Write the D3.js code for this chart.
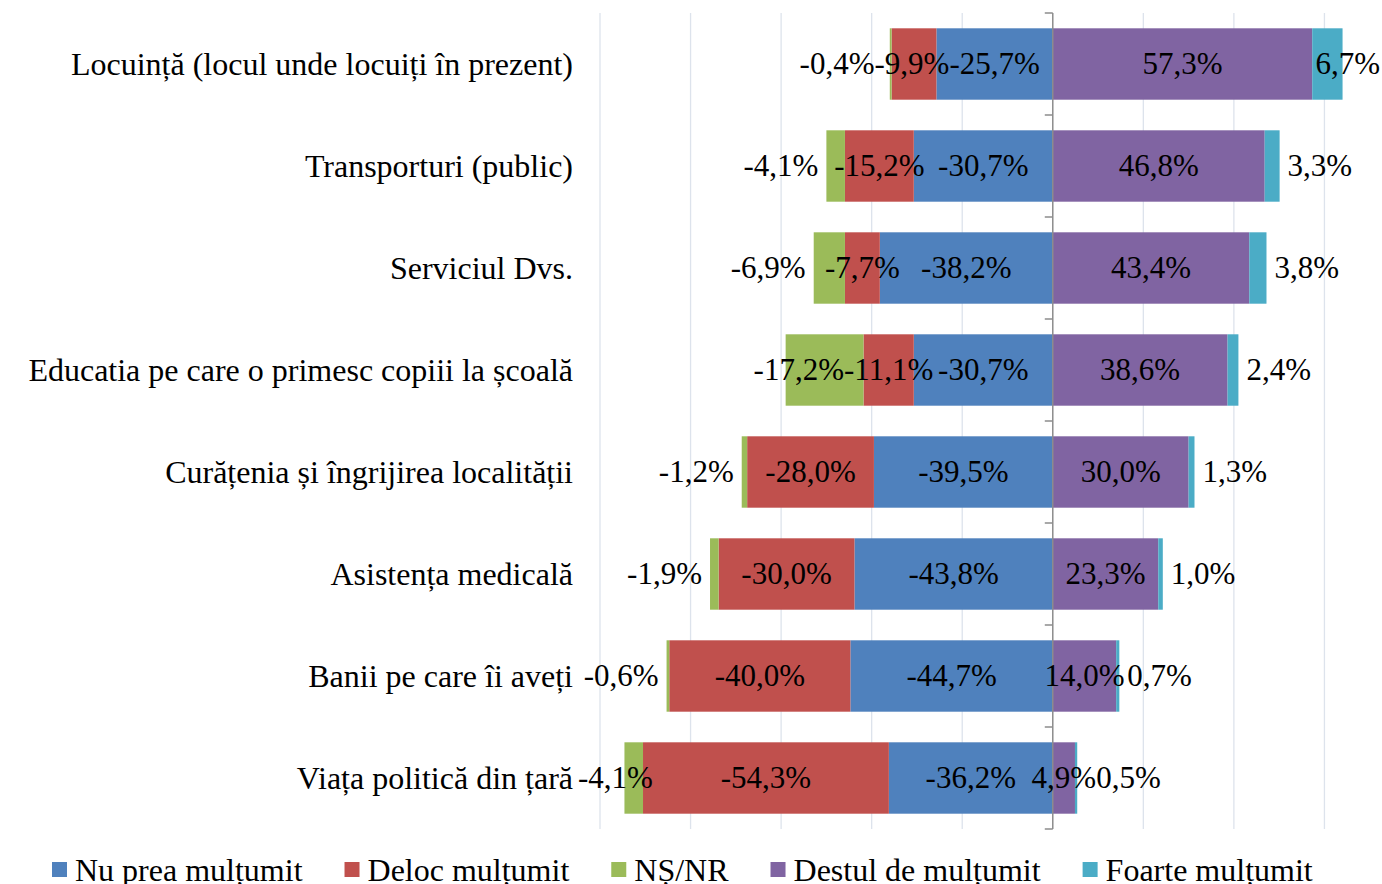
<!DOCTYPE html>
<html>
<head>
<meta charset="utf-8">
<script src="https://cdn.jsdelivr.net/npm/d3@7"></script>
<style>
body { margin: 0; background: #fff; }
text { font-family: "Liberation Serif", "Times New Roman", serif; fill: #000; }
</style>
</head>
<body>
<script>
let width = 1382, height = 884

let categories = [
    "Locuință (locul unde locuiți în prezent)",
    "Transporturi (public)",
    "Serviciul Dvs.",
    "Educatia pe care o primesc copiii la școală",
    "Curățenia și îngrijirea localității",
    "Asistența medicală",
    "Banii pe care îi aveți",
    "Viața politică din țară"
]
let seriesNames = ["Nu prea mulțumit", "Deloc mulțumit", "NȘ/NR", "Destul de mulțumit", "Foarte mulțumit"]
let nuPrea  = [-25.7, -30.7, -38.2, -30.7, -39.5, -43.8, -44.7, -36.2]
let deloc   = [-9.9, -15.2, -7.7, -11.1, -28.0, -30.0, -40.0, -54.3]
let nsnr    = [-0.4, -4.1, -6.9, -17.2, -1.2, -1.9, -0.6, -4.1]
let destul  = [57.3, 46.8, 43.4, 38.6, 30.0, 23.3, 14.0, 4.9]
let foarte  = [6.7, 3.3, 3.8, 2.4, 1.3, 1.0, 0.7, 0.5]
let gridTicks = [-100, -80, -60, -40, -20, 20, 40, 60, 80]

let colors = ["#4F81BD", "#C0504D", "#9BBB59", "#8064A2", "#4BACC6"]
let values = [nuPrea, deloc, nsnr, destul, foarte]

let locale = d3.formatLocale({decimal: ",", thousands: ".", grouping: [3], currency: ["", ""], minus: "-"})
let fmt = v => locale.format(".1f")(v) + "%"

let svg = d3.select("body").append("svg")
    .attr("width", width)
    .attr("height", height)

let x = d3.scaleLinear().domain([-100, 80]).range([600, 1415])
let y = d3.scaleBand().domain(categories).range([13, 829]).paddingInner(0.3).paddingOuter(0.15)

// gridlines
svg.append("g").selectAll("line")
    .data(gridTicks)
    .enter().append("line")
    .attr("x1", d => x(d)).attr("x2", d => x(d))
    .attr("y1", 13).attr("y2", 829)
    .attr("stroke", "#dde3ec")
    .attr("stroke-width", 1.3)

// build stacked segments: negatives grow leftward from 0, positives rightward
let segs = []
categories.forEach((c, i) => {
    let neg = 0, pos = 0
    values.forEach((arr, s) => {
        let v = arr[i], x0, x1
        if (v < 0) { x1 = neg; x0 = neg + v; neg = x0 }
        else { x0 = pos; x1 = pos + v; pos = x1 }
        segs.push({cat: c, series: s, value: v, x0: x0, x1: x1})
    })
})

svg.append("g").selectAll("rect")
    .data(segs)
    .enter().append("rect")
    .attr("x", d => x(d.x0))
    .attr("width", d => x(d.x1) - x(d.x0))
    .attr("y", d => y(d.cat))
    .attr("height", y.bandwidth())
    .attr("fill", d => colors[d.series])

// centre axis with small ticks at the category boundaries
let axisG = svg.append("g")
axisG.append("line")
    .attr("x1", x(0)).attr("x2", x(0))
    .attr("y1", 13).attr("y2", 829)
    .attr("stroke", "#8c8c8c").attr("stroke-width", 1.5)
let bounds = d3.range(categories.length + 1).map(k => 13 + k * y.step())
axisG.selectAll("line.tick")
    .data(bounds)
    .enter().append("line")
    .attr("class", "tick")
    .attr("x1", x(0) - 8).attr("x2", x(0))
    .attr("y1", d => d).attr("y2", d => d)
    .attr("stroke", "#8c8c8c").attr("stroke-width", 1.5)

// category labels
svg.append("g").selectAll("text")
    .data(categories)
    .enter().append("text")
    .attr("x", 573)
    .attr("y", d => y(d) + y.bandwidth() / 2 + 11)
    .attr("text-anchor", "end")
    .style("font-size", "32px")
    .text(d => d)

// value labels, placed by left edge so overlaps can be pushed apart
let labelG = svg.append("g")
let plotLeft = x.range()[0] - 22
categories.forEach(c => {
    let row = segs.filter(d => d.cat == c)
    let placed = row.map(d => {
        let t = labelG.append("text")
            .attr("y", y(c) + y.bandwidth() / 2 + 10)
            .style("font-size", "31px")
            .text(fmt(d.value))
        let w = t.node().getComputedTextLength()
        let segW = x(d.x1) - x(d.x0)
        let lx
        if (d.series == 2 && segW < 40) {
            // small NS/NR piece: label outside on the left
            lx = Math.max(x(d.x0) - 8 - w, plotLeft)
        } else if (d.series == 4) {
            // Foarte mulțumit: label outside on the right, kept inside the page
            lx = Math.min(x(d.x1) + 8, width - 2 - w)
        } else {
            lx = (x(d.x0) + x(d.x1)) / 2 - w / 2
        }
        return {t: t, w: w, lx: lx, series: d.series}
    })
    // negative side goes out from the axis: blue, red, green
    let edge = Infinity
    placed.filter(p => p.series < 3).forEach(p => {
        if (p.lx + p.w > edge) p.lx = edge - p.w
        edge = p.lx
    })
    // positive side: purple, cyan
    edge = -Infinity
    placed.filter(p => p.series >= 3).forEach(p => {
        if (p.lx < edge) p.lx = edge
        edge = p.lx + p.w
    })
    placed.forEach(p => p.t.attr("x", p.lx))
})

// legend
let legend = svg.append("g")
let lx = 52
seriesNames.forEach((name, i) => {
    legend.append("rect")
        .attr("x", lx).attr("y", 862)
        .attr("width", 15).attr("height", 15)
        .attr("fill", colors[i])
    let t = legend.append("text")
        .attr("x", lx + 23).attr("y", 881)
        .style("font-size", "32px")
        .text(name)
    lx += 23 + t.node().getComputedTextLength() + 42
})
</script>
</body>
</html>
